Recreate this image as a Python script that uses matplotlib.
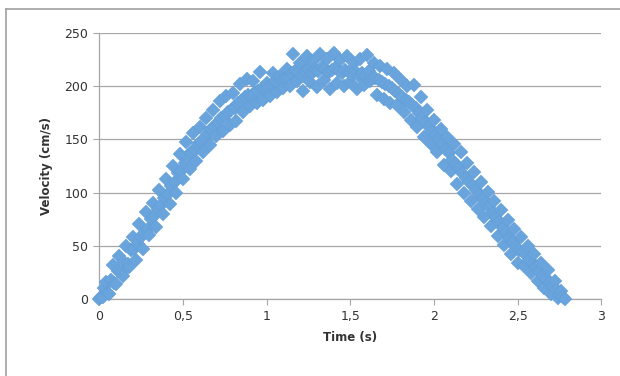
import matplotlib
matplotlib.use("Agg")
import matplotlib.pyplot as plt
from matplotlib.lines import Line2D
from matplotlib.ticker import FixedLocator, FixedFormatter

# velocity readings (s, cm/s) -- even hundredths
time_s = [0.00, 0.02, 0.04, 0.06, 0.08, 0.10, 0.12, 0.14, 0.16, 0.18,
          0.20, 0.22, 0.24, 0.26, 0.28, 0.30, 0.32, 0.34, 0.36, 0.38,
          0.40, 0.42, 0.44, 0.46, 0.48, 0.50, 0.52, 0.54, 0.56, 0.58,
          0.60, 0.62, 0.64, 0.66, 0.68, 0.70, 0.72, 0.74, 0.76, 0.78,
          0.80, 0.82, 0.84, 0.86, 0.88, 0.90, 0.92, 0.94, 0.96, 0.98,
          1.00, 1.02, 1.04, 1.06, 1.08, 1.10, 1.12, 1.14, 1.16, 1.18,
          1.20, 1.22, 1.24, 1.26, 1.28, 1.30, 1.32, 1.34, 1.36, 1.38,
          1.40, 1.42, 1.44, 1.46, 1.48, 1.50, 1.52, 1.54, 1.56, 1.58,
          1.60, 1.62, 1.64, 1.66, 1.68, 1.70, 1.72, 1.74, 1.76, 1.78,
          1.80, 1.82, 1.84, 1.86, 1.88, 1.90, 1.92, 1.94, 1.96, 1.98,
          2.00, 2.02, 2.04, 2.06, 2.08, 2.10, 2.12, 2.14, 2.16, 2.18,
          2.20, 2.22, 2.24, 2.26, 2.28, 2.30, 2.32, 2.34, 2.36, 2.38,
          2.40, 2.42, 2.44, 2.46, 2.48, 2.50, 2.52, 2.54, 2.56, 2.58,
          2.60, 2.62, 2.64, 2.66, 2.68, 2.70, 2.72, 2.74, 2.76, 2.78]
velocity = [0, 2, 16, 5, 32, 14, 40, 22, 50, 30,
            58, 37, 70, 47, 82, 60, 90, 68, 102, 80,
            113, 89, 125, 100, 136, 113, 148, 122, 156, 130,
            162, 138, 170, 145, 178, 153, 186, 158, 191, 164,
            194, 167, 202, 176, 207, 181, 205, 184, 213, 187,
            203, 191, 212, 195, 210, 198, 216, 200, 230, 205,
            222, 196, 228, 204, 224, 199, 230, 206, 226, 197,
            231, 203, 225, 200, 228, 204, 222, 197, 226, 201,
            229, 205, 222, 192, 219, 188, 216, 184, 212, 182,
            206, 176, 200, 168, 201, 162, 190, 152, 178, 146,
            168, 138, 160, 126, 152, 120, 146, 108, 138, 100,
            128, 92, 119, 85, 110, 77, 101, 69, 92, 59,
            84, 51, 74, 42, 66, 34, 58, 31, 50, 24,
            42, 17, 34, 10, 27, 5, 17, 1, 7, 0]

# odd hundredths
time_odd = [0.01, 0.03, 0.05, 0.07, 0.09, 0.11, 0.13, 0.15, 0.17, 0.19,
            0.21, 0.23, 0.25, 0.27, 0.29, 0.31, 0.33, 0.35, 0.37, 0.39,
            0.41, 0.43, 0.45, 0.47, 0.49, 0.51, 0.53, 0.55, 0.57, 0.59,
            0.61, 0.63, 0.65, 0.67, 0.69, 0.71, 0.73, 0.75, 0.77, 0.79,
            0.81, 0.83, 0.85, 0.87, 0.89, 0.91, 0.93, 0.95, 0.97, 0.99,
            1.01, 1.03, 1.05, 1.07, 1.09, 1.11, 1.13, 1.15, 1.17, 1.19,
            1.21, 1.23, 1.25, 1.27, 1.29, 1.31, 1.33, 1.35, 1.37, 1.39,
            1.41, 1.43, 1.45, 1.47, 1.49, 1.51, 1.53, 1.55, 1.57, 1.59,
            1.61, 1.63, 1.65, 1.67, 1.69, 1.71, 1.73, 1.75, 1.77, 1.79,
            1.81, 1.83, 1.85, 1.87, 1.89, 1.91, 1.93, 1.95, 1.97, 1.99,
            2.01, 2.03, 2.05, 2.07, 2.09, 2.11, 2.13, 2.15, 2.17, 2.19,
            2.21, 2.23, 2.25, 2.27, 2.29, 2.31, 2.33, 2.35, 2.37, 2.39,
            2.41, 2.43, 2.45, 2.47, 2.49, 2.51, 2.53, 2.55, 2.57, 2.59,
            2.61, 2.63, 2.65, 2.67, 2.69, 2.71, 2.73, 2.75, 2.77]
velocity_odd = [2, 10, 6, 18, 15, 26, 24, 35, 33, 46,
                47, 52, 58, 62, 66, 75, 78, 85, 88, 95,
                99, 106, 110, 118, 120, 128, 132, 138, 140, 146,
                148, 152, 155, 160, 162, 166, 170, 172, 176, 178,
                180, 184, 186, 190, 192, 192, 194, 196, 198, 197,
                198, 202, 204, 203, 206, 207, 208, 212, 214, 213,
                210, 214, 216, 212, 215, 214, 218, 216, 213, 215,
                217, 214, 212, 215, 213, 211, 214, 210, 212, 210,
                214, 208, 208, 206, 204, 202, 200, 198, 196, 193,
                190, 187, 185, 182, 180, 175, 170, 166, 162, 158,
                154, 150, 146, 141, 137, 131, 127, 123, 118, 114,
                110, 106, 102, 98, 94, 90, 86, 81, 76, 72,
                67, 63, 57, 54, 49, 46, 44, 41, 37, 34,
                30, 26, 22, 19, 16, 12, 8, 4, 2]

x_ticks = [0, 0.5, 1, 1.5, 2, 2.5, 3]
x_labels = ["0", "0,5", "1", "1,5", "2", "2,5", "3"]
y_ticks = [0, 50, 100, 150, 200, 250]

# one series in time order, like the spreadsheet
pts = sorted(zip(time_s + time_odd, velocity + velocity_odd))
t_all = [p[0] for p in pts]
v_all = [p[1] for p in pts]

fig = plt.figure(figsize=(6.2, 3.76), dpi=100)
ax = fig.add_axes([0.160, 0.205, 0.810, 0.707])

ax.plot(t_all, v_all, linestyle="none", marker="D", markersize=7.5,
        markerfacecolor="#6aa4dd", markeredgecolor="#619dd8",
        markeredgewidth=0.3, clip_on=False, zorder=3)

ax.set_xlim(0, 3)
ax.set_ylim(0, 250)
ax.xaxis.set_major_locator(FixedLocator(x_ticks))
ax.xaxis.set_major_formatter(FixedFormatter(x_labels))
ax.set_yticks(y_ticks)

ax.grid(axis="y", color="#a6a6a6", linewidth=0.9)
ax.set_axisbelow(True)
for side in ["top", "right"]:
    ax.spines[side].set_visible(False)
for side in ["left", "bottom"]:
    ax.spines[side].set_color("#a6a6a6")
    ax.spines[side].set_linewidth(0.9)
ax.tick_params(axis="both", direction="out", length=4, width=0.8,
               color="#a6a6a6", labelsize=9, labelcolor="#333333", pad=4)

ax.set_xlabel("Time (s)", fontsize=8.5, fontweight="bold", color="#333333", labelpad=6)
ax.set_ylabel("Velocity (cm/s)", fontsize=8.5, fontweight="bold", color="#333333", labelpad=8)

# chart frame (top and left edges visible)
fig.add_artist(Line2D([0.010, 1.0], [0.976, 0.976], transform=fig.transFigure,
                      color="#a0a0a0", linewidth=1.2))
fig.add_artist(Line2D([0.010, 0.010], [0.0, 0.976], transform=fig.transFigure,
                      color="#a0a0a0", linewidth=1.2))

fig.savefig("out.png", dpi=100)
